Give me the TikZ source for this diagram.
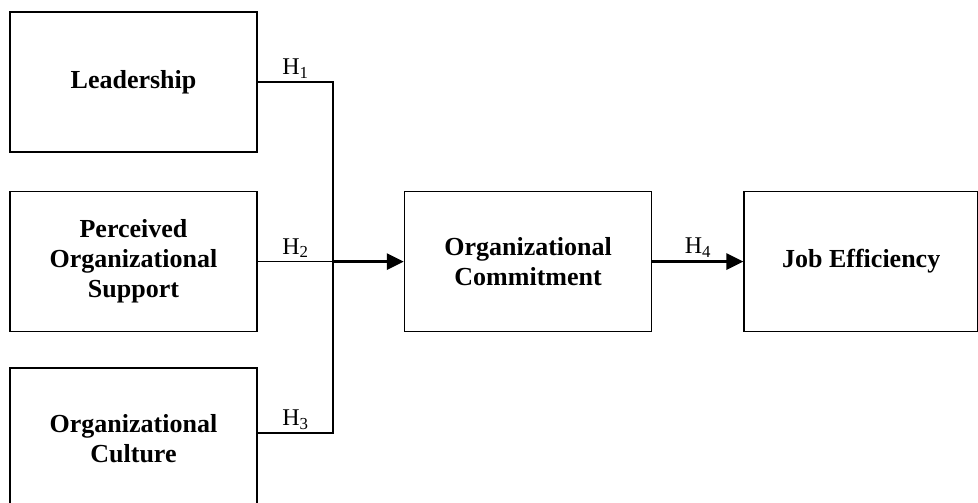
\documentclass[tikz,border=0pt]{standalone}
\usepackage{fontspec}
\setmainfont{Liberation Serif}
\usepackage{tikz}
\usetikzlibrary{arrows.meta,positioning}
\tikzstyle{factor} = [rectangle, draw=black, line width=1.6pt, minimum width=247pt, minimum height=140pt, text centered, align=center, font=\fontsize{26}{30}\selectfont\bfseries]
\tikzstyle{link} = [line width=1.5pt]
\tikzstyle{arrow} = [line width=3pt, -{Triangle[length=17pt,width=16pt]}]
\tikzstyle{hlabel} = [above, inner sep=3pt, font=\fontsize{24}{26}\selectfont]

\begin{document}
\begin{tikzpicture}[x=1pt, y=1pt]
\useasboundingbox (0,0) rectangle (978,-503);
% predictors
\node (lead) [factor] at (133.5,-82) {Leadership};
\node (perc) [factor, below=38pt of lead] {Perceived\\Organizational\\Support};
\node (cult) [factor, below=35pt of perc] {Organizational\\Culture};
% mediator and outcome
\node (comm) [factor, right=146pt of perc] {Organizational\\Commitment};
\node (eff) [factor, right=91pt of comm, minimum width=234pt] {Job Efficiency};

\coordinate (j) at (333,0 |- perc.east);
\draw[link] (lead.east) -- node[hlabel] {H\textsubscript{1}} (lead.east -| j) -- (j);
\draw[link] ([yshift=5pt]cult.east) -- node[hlabel] {H\textsubscript{3}} ([yshift=5pt]cult.east -| j) -- (j);
\draw[link] (perc.east) -- node[hlabel] {H\textsubscript{2}} (j);
\draw[arrow] (j) -- (comm.west);
\draw[arrow] (comm.east) -- node[hlabel] {H\textsubscript{4}} (eff.west);
\end{tikzpicture}
\end{document}
